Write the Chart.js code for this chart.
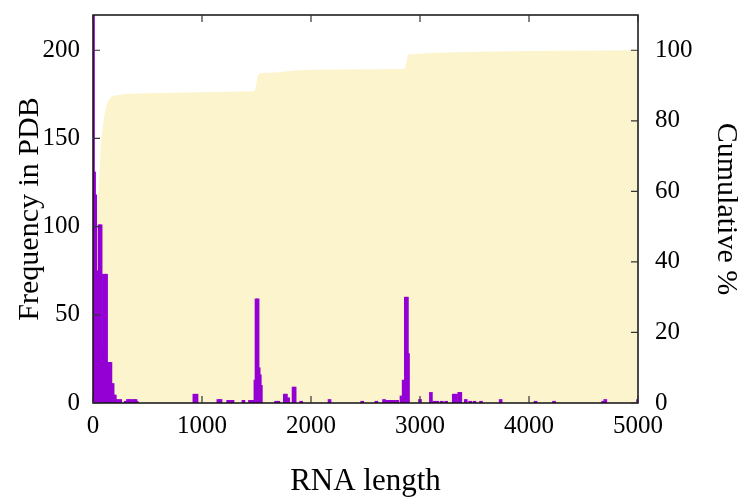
<!DOCTYPE html>
<html>
<head>
<meta charset="utf-8">
<script src="https://cdn.jsdelivr.net/npm/chart.js@4.4.1/dist/chart.umd.min.js"></script>
<style>
  html, body { margin: 0; padding: 0; background: #ffffff; }
  #c { display: block; }
</style>
</head>
<body>
<canvas id="c" width="744" height="497"></canvas>
<script>
// ---- Data ----
const lengthBins = [0, 10, 20, 30, 40, 50, 60, 70, 80, 90, 100, 110, 120, 130, 140, 150, 160, 170, 180, 190, 200, 210, 220, 240, 250, 300, 320, 340, 370, 390, 400,
  930, 950, 1150, 1170, 1240, 1260, 1280, 1380, 1440, 1460, 1480, 1490, 1500, 1510, 1520, 1530, 1540,
  1680, 1700, 1760, 1770, 1790, 1840, 1850, 1910, 2170, 2470, 2600, 2670, 2700, 2730, 2760, 2790,
  2830, 2850, 2870, 2880, 2890, 3000, 3100, 3130, 3160, 3200, 3240, 3310, 3330, 3360, 3370, 3420,
  3460, 3500, 3560, 3740, 4060, 4230, 4680, 4700, 5000];
const frequency = [250, 131, 118, 75, 29, 45, 101, 101, 30, 30, 73, 73, 73, 23, 23, 23, 23, 11, 11, 4.5, 4.5, 2, 2, 1, 2, 1, 2, 2, 2, 2, 1,
  5, 5, 2, 2, 1.5, 1.5, 1.5, 1.5, 1.5, 1.5, 1.5, 13, 59, 59, 20, 16, 10,
  1, 1, 5, 5, 3, 9, 9, 1, 2, 1, 1, 2, 1.5, 1.5, 1.5, 1.5,
  4, 13, 60, 60, 28, 2, 6, 1, 1, 1, 1, 5, 5, 6, 6, 2,
  1, 1, 1, 2, 1, 1, 1, 2, 2];

const cumLength = [0, 5, 10, 20, 30, 40, 50, 60, 70, 80, 90, 100, 110, 120, 130, 150, 170, 200, 300, 500, 1000, 1480, 1495, 1510, 1530, 1700, 1850, 2000, 2860, 2875, 2890, 3100, 3400, 4000, 5000];
const cumPercent = [0, 12, 22, 36, 48, 56, 60, 66, 72, 76, 78, 80.5, 82.5, 84, 85.2, 86.2, 86.8, 87.2, 87.6, 87.8, 88.1, 88.4, 89.5, 92.8, 93.5, 93.8, 94.3, 94.5, 94.7, 96.5, 98.8, 99.2, 99.5, 99.8, 100];

const xTicks = [0, 1000, 2000, 3000, 4000, 5000];
const freqTicks = [0, 50, 100, 150, 200];
const cumTicks = [0, 20, 40, 60, 80, 100];

// ---- Chart ----
const FONT = "'Liberation Serif', 'Times New Roman', serif";

const framePlugin = {
  id: 'frame',
  afterDatasetsDraw(chart) {
    const { ctx, chartArea: a, scales } = chart;
    ctx.save();
    ctx.strokeStyle = '#111';
    ctx.lineWidth = 1.5;
    ctx.strokeRect(a.left, a.top, a.right - a.left, a.bottom - a.top);
    const tl = 7;
    ctx.lineWidth = 1.2;
    ctx.strokeStyle = '#333';
    ctx.beginPath();
    xTicks.forEach(v => {
      const px = scales.x.getPixelForValue(v);
      ctx.moveTo(px, a.bottom); ctx.lineTo(px, a.bottom - tl);
      ctx.moveTo(px, a.top); ctx.lineTo(px, a.top + tl);
    });
    freqTicks.forEach(v => {
      const py = scales.y.getPixelForValue(v);
      ctx.moveTo(a.left, py); ctx.lineTo(a.left + tl, py);
    });
    cumTicks.forEach(v => {
      const py = scales.y2.getPixelForValue(v);
      ctx.moveTo(a.right, py); ctx.lineTo(a.right - tl, py);
    });
    ctx.stroke();
    ctx.restore();
  }
};

const plain = v => String(v);

new Chart(document.getElementById('c'), {
  type: 'bar',
  data: {
    datasets: [
      {
        type: 'bar',
        label: 'Frequency',
        data: lengthBins.map((x, i) => ({ x: x, y: frequency[i] })),
        backgroundColor: '#9400d3',
        borderWidth: 0,
        barThickness: 3,
        yAxisID: 'y',
        order: 1
      },
      {
        type: 'line',
        label: 'Cumulative',
        data: cumLength.map((x, i) => ({ x: x, y: cumPercent[i] })),
        yAxisID: 'y2',
        borderWidth: 0,
        borderColor: 'rgba(0,0,0,0)',
        backgroundColor: 'rgb(252,244,204)',
        fill: 'origin',
        pointRadius: 0,
        tension: 0,
        order: 2
      }
    ]
  },
  options: {
    responsive: false,
    animation: false,
    devicePixelRatio: 1,
    layout: { padding: { top: 15, left: 0, right: 0, bottom: 0 } },
    plugins: { legend: { display: false }, tooltip: { enabled: false } },
    scales: {
      x: {
        type: 'linear',
        offset: false,
        min: 0, max: 5000,
        afterBuildTicks: s => { s.ticks = xTicks.map(v => ({ value: v })); },
        afterFit: s => { s.height = 94; s.paddingLeft = 0; s.paddingRight = 0; },
        grid: { display: false, drawTicks: false },
        border: { display: false },
        ticks: { color: '#000', font: { family: FONT, size: 25 }, padding: 8, maxRotation: 0, callback: plain },
        title: { display: true, text: 'RNA length', color: '#000', font: { family: FONT, size: 31, lineHeight: 1.0 }, padding: { top: 0, bottom: 0 } }
      },
      y: {
        type: 'linear',
        position: 'left',
        min: 0, max: 220,
        afterBuildTicks: s => { s.ticks = freqTicks.map(v => ({ value: v })); },
        afterFit: s => { s.width = 93; s.paddingTop = 0; s.paddingBottom = 0; },
        grid: { display: false, drawTicks: false },
        border: { display: false },
        ticks: { color: '#000', font: { family: FONT, size: 25 }, padding: 13, callback: plain },
        title: { display: true, text: 'Frequency in PDB', color: '#000', font: { family: FONT, size: 30 }, padding: { top: 12, bottom: 0 } }
      },
      y2: {
        type: 'linear',
        position: 'right',
        min: 0, max: 110,
        afterBuildTicks: s => { s.ticks = cumTicks.map(v => ({ value: v })); },
        afterFit: s => { s.width = 106; s.paddingTop = 0; s.paddingBottom = 0; },
        grid: { display: false, drawTicks: false },
        border: { display: false },
        ticks: { color: '#000', font: { family: FONT, size: 25 }, padding: 17, callback: plain },
        title: { display: true, text: 'Cumulative %', color: '#000', font: { family: FONT, size: 30 }, padding: { top: 0, bottom: 0 } }
      }
    }
  },
  plugins: [framePlugin]
});
</script>
</body>
</html>
